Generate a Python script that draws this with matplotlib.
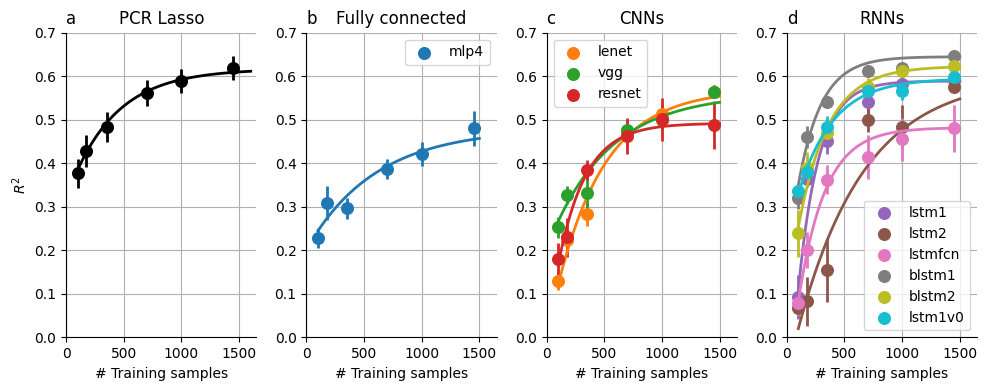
import numpy as np
import matplotlib
matplotlib.use("Agg")
import matplotlib.pyplot as plt

# training set sizes
n_train = [100, 175, 350, 700, 1000, 1450]

# panel a: PCR Lasso
pcr_r2 = [0.377, 0.428, 0.484, 0.561, 0.589, 0.619]
pcr_err = [0.033, 0.036, 0.035, 0.030, 0.028, 0.027]

# panel b: fully connected
mlp4_r2 = [0.228, 0.309, 0.297, 0.387, 0.421, 0.480]
mlp4_err = [0.023, 0.039, 0.024, 0.022, 0.027, 0.041]

# panel c: CNNs
lenet_r2 = [0.129, 0.224, 0.283, 0.470, 0.513, 0.565]
lenet_err = [0.021, 0.020, 0.028, 0.030, 0.020, 0.015]
vgg_r2 = [0.253, 0.327, 0.332, 0.477, 0.499, 0.565]
vgg_err = [0.024, 0.020, 0.040, 0.015, 0.020, 0.015]
resnet_r2 = [0.180, 0.230, 0.385, 0.463, 0.501, 0.488]
resnet_err = [0.037, 0.045, 0.023, 0.042, 0.050, 0.055]

# panel d: RNNs
lstm1_r2 = [0.093, 0.365, 0.452, 0.542, 0.582, 0.591]
lstm1_err = [0.050, 0.020, 0.030, 0.030, 0.020, 0.015]
lstm2_r2 = [0.067, 0.083, 0.155, 0.500, 0.484, 0.576]
lstm2_err = [0.020, 0.056, 0.073, 0.027, 0.050, 0.015]
lstmfcn_r2 = [0.080, 0.201, 0.362, 0.414, 0.455, 0.480]
lstmfcn_err = [0.030, 0.042, 0.033, 0.050, 0.050, 0.055]
blstm1_r2 = [0.320, 0.460, 0.540, 0.611, 0.620, 0.647]
blstm1_err = [0.025, 0.025, 0.010, 0.010, 0.010, 0.010]
blstm2_r2 = [0.239, 0.390, 0.469, 0.575, 0.611, 0.624]
blstm2_err = [0.054, 0.035, 0.030, 0.020, 0.015, 0.020]
lstm1v0_r2 = [0.337, 0.380, 0.484, 0.566, 0.566, 0.598]
lstm1v0_err = [0.015, 0.020, 0.025, 0.020, 0.020, 0.015]

# saturating fit y = a - b*exp(-n/c), parameters (a, b, c)
fit_pcr = [0.617, 0.298, 400]
fit_mlp4 = [0.480, 0.278, 600]
fit_lenet = [0.570, 0.571, 420]
fit_vgg = [0.560, 0.356, 520]
fit_resnet = [0.492, 0.495, 240]
fit_lstm1 = [0.589, 0.842, 178]
fit_lstm2 = [0.600, 0.689, 580]
fit_lstmfcn = [0.482, 0.618, 230]
fit_blstm1 = [0.645, 0.486, 200]
fit_blstm2 = [0.623, 0.544, 260]
fit_lstm1v0 = [0.595, 0.370, 300]


def fitcurve(p, x):
    return p[0] - p[1]*np.exp(-x/p[2])


def plot_model(ax, r2, err, p, color, label=None, xmax=1500):
    ax.errorbar(n_train, r2, yerr=err, fmt='none', ecolor=color, elinewidth=2, zorder=2)
    ax.scatter(n_train, r2, s=70, color=color, label=label, zorder=3)
    xx = np.linspace(n_train[0], xmax, 200)
    ax.plot(xx, fitcurve(p, xx), color=color, lw=2, zorder=3)


fig, axes = plt.subplots(1, 4, figsize=(9.87, 3.9), dpi=100)
fig.subplots_adjust(left=0.067, right=0.99, bottom=0.135, top=0.916, wspace=0.262)

ax = axes[0]
plot_model(ax, pcr_r2, pcr_err, fit_pcr, 'black', xmax=1600)
ax.set_ylabel('$R^2$')
ax.set_title('PCR Lasso')
ax.set_title('a', loc='left')

ax = axes[1]
plot_model(ax, mlp4_r2, mlp4_err, fit_mlp4, 'tab:blue', 'mlp4')
ax.set_title('Fully connected')
ax.set_title('b', loc='left')
ax.legend(loc='upper right')

ax = axes[2]
plot_model(ax, lenet_r2, lenet_err, fit_lenet, 'tab:orange', 'lenet')
plot_model(ax, vgg_r2, vgg_err, fit_vgg, 'tab:green', 'vgg')
plot_model(ax, resnet_r2, resnet_err, fit_resnet, 'tab:red', 'resnet')
ax.set_title('CNNs')
ax.set_title('c', loc='left')
ax.legend(loc='upper left')

ax = axes[3]
plot_model(ax, lstm1_r2, lstm1_err, fit_lstm1, 'tab:purple', 'lstm1')
plot_model(ax, lstm2_r2, lstm2_err, fit_lstm2, 'tab:brown', 'lstm2')
plot_model(ax, lstmfcn_r2, lstmfcn_err, fit_lstmfcn, 'tab:pink', 'lstmfcn')
plot_model(ax, blstm1_r2, blstm1_err, fit_blstm1, 'tab:gray', 'blstm1')
plot_model(ax, blstm2_r2, blstm2_err, fit_blstm2, 'tab:olive', 'blstm2')
plot_model(ax, lstm1v0_r2, lstm1v0_err, fit_lstm1v0, 'tab:cyan', 'lstm1v0')
ax.set_title('RNNs')
ax.set_title('d', loc='left')
ax.legend(loc='lower right')

for ax in axes:
    ax.set_xlim(0, 1650)
    ax.set_ylim(0, 0.7)
    ax.set_xticks([0, 500, 1000, 1500])
    ax.set_xlabel('# Training samples')
    ax.grid(True)
    ax.set_axisbelow(True)
    ax.spines['top'].set_visible(False)
    ax.spines['right'].set_visible(False)

plt.savefig('out.png')
